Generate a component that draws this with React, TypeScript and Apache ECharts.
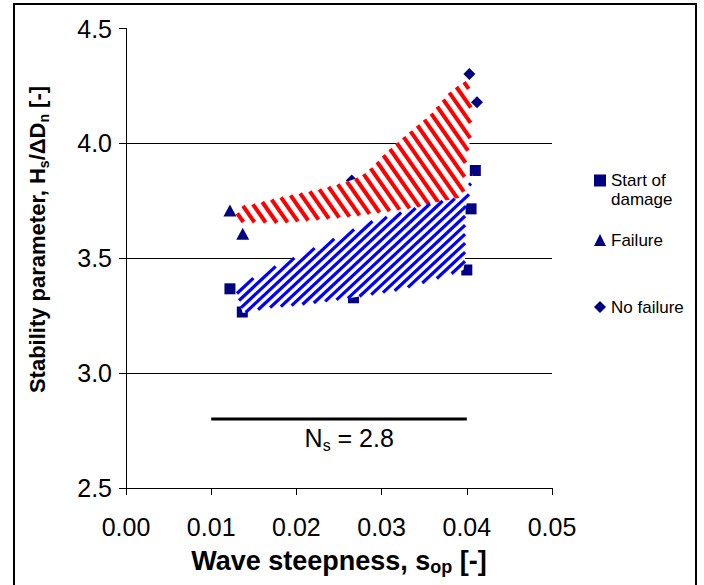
import React, { useEffect, useRef } from "react";
import * as echarts from "echarts";

// ---- data ----
const startX = [0.0122, 0.01365, 0.0267, 0.04, 0.0405, 0.041];
const startY = [3.367, 3.266, 3.328, 3.449, 3.715, 3.882];
const failX = [0.0122, 0.0137];
const failY = [3.708, 3.607];
const noFailX = [0.0265, 0.0403, 0.0412];
const noFailY = [3.838, 4.302, 4.179];

const nsX = [0.01, 0.04];
const nsY = [2.8, 2.8];
const nsLabelX = [0.0262];
const nsLabelY = [2.8];

// outline of the red hatched zone (upper edge, right edge, lower edge)
const redX = [0.0128, 0.0146, 0.0184, 0.0224, 0.0255, 0.0275, 0.029, 0.0305, 0.033, 0.0357, 0.037, 0.0382, 0.0396, 0.04,
  0.0405, 0.0404, 0.0398, 0.0396,
  0.038, 0.0318, 0.0263, 0.0184, 0.0134];
const redY = [3.724, 3.732, 3.767, 3.797, 3.828, 3.854, 3.9, 3.96, 4.04, 4.124, 4.18, 4.232, 4.264, 4.276,
  4.19, 4.015, 3.906, 3.754,
  3.741, 3.71, 3.681, 3.654, 3.658];

// outline of the blue hatched zone
const blueX = [0.013, 0.0146, 0.0166, 0.0193, 0.0224, 0.0259, 0.0283, 0.0321, 0.036, 0.0396, 0.0404, 0.0407,
  0.0403, 0.0398, 0.0398, 0.0396,
  0.036, 0.0321, 0.0263, 0.0204, 0.0166, 0.0137];
const blueY = [3.349, 3.406, 3.449, 3.493, 3.549, 3.61, 3.654, 3.697, 3.741, 3.767, 3.828, 3.871,
  3.784, 3.71, 3.49, 3.449,
  3.406, 3.362, 3.327, 3.297, 3.284, 3.262];

const FONT = "'Liberation Sans', Arial, sans-serif";
const NAVY = "#000080";

function hatch(pts: number[][], angleDeg: number, spacing: number) {
  const a = (angleDeg * Math.PI) / 180;
  const d = [Math.cos(a), Math.sin(a)];
  const n = [-d[1], d[0]];
  const proj = pts.map((p) => p[0] * n[0] + p[1] * n[1]);
  const mn = Math.min(...proj);
  const mx = Math.max(...proj);
  const segs: number[][] = [];
  for (let c = Math.ceil(mn / spacing) * spacing; c <= mx; c += spacing) {
    const ts: number[] = [];
    for (let i = 0; i < pts.length; i++) {
      const j = (i + 1) % pts.length;
      const dp = proj[i] - c;
      const dq = proj[j] - c;
      if (dp < 0 !== dq < 0) {
        const t = dp / (dp - dq);
        const x = pts[i][0] + t * (pts[j][0] - pts[i][0]);
        const y = pts[i][1] + t * (pts[j][1] - pts[i][1]);
        ts.push(x * d[0] + y * d[1]);
      }
    }
    ts.sort((u, v) => u - v);
    for (let k = 0; k + 1 < ts.length; k += 2) {
      segs.push([
        c * n[0] + ts[k] * d[0],
        c * n[1] + ts[k] * d[1],
        c * n[0] + ts[k + 1] * d[0],
        c * n[1] + ts[k + 1] * d[1],
      ]);
    }
  }
  return segs;
}

function zoneRenderer(xs: number[], ys: number[], color: string, angle: number, spacing: number, width: number) {
  return (params: any, api: any) => {
    const pts = xs.map((x, i) => api.coord([x, ys[i]]));
    const segs = hatch(pts, angle, spacing);
    return {
      type: "group",
      children: [
        { type: "polygon", shape: { points: pts }, style: { fill: "#fff", stroke: null } },
        ...segs.map((s) => ({
          type: "line",
          shape: { x1: s[0], y1: s[1], x2: s[2], y2: s[3] },
          style: { stroke: color, lineWidth: width },
        })),
      ],
    };
  };
}

const pairs = (xs: number[], ys: number[]) => xs.map((x, i) => [x, ys[i]]);

export default function App() {
  const ref = useRef<HTMLDivElement>(null);
  useEffect(() => {
    if (!ref.current) return;
    const chart = echarts.init(ref.current, null, { renderer: "svg" });
    const legendText = { fontFamily: FONT, fontSize: 17, color: "#000", lineHeight: 19 };
    const option: any = {
      animation: false,
      backgroundColor: "#fff",
      textStyle: { fontFamily: FONT },
      grid: { left: 126, top: 28.5, width: 426, height: 459.5, outerBoundsMode: "none" },
      xAxis: {
        type: "value",
        min: 0,
        max: 0.05,
        interval: 0.01,
        axisLine: { show: true, onZero: false, lineStyle: { color: "#000", width: 1 } },
        axisTick: { show: true, length: 7, lineStyle: { color: "#000" } },
        splitLine: { show: false },
        axisLabel: { fontFamily: FONT, fontSize: 25, color: "#000", margin: 26, formatter: (v: number) => v.toFixed(2) },
        name: "{b|Wave steepness, s}{sb|op}{b| [-]}",
        nameLocation: "middle",
        nameGap: 58,
        nameTextStyle: {
          rich: {
            b: { fontFamily: FONT, fontSize: 27, fontWeight: "bold", color: "#000", lineHeight: 30 },
            sb: { fontFamily: FONT, fontSize: 18, fontWeight: "bold", color: "#000", lineHeight: 11, verticalAlign: "bottom" },
          },
        },
      },
      yAxis: {
        type: "value",
        min: 2.5,
        max: 4.5,
        interval: 0.5,
        axisLine: { show: true, onZero: false, lineStyle: { color: "#000", width: 1 } },
        axisTick: { show: true, length: 7, lineStyle: { color: "#000" } },
        splitLine: { show: true, showMinLine: false, showMaxLine: false, lineStyle: { color: "#000", width: 1 } },
        axisLabel: { fontFamily: FONT, fontSize: 25, color: "#000", margin: 14, formatter: (v: number) => v.toFixed(1) },
      },
      legend: [
        {
          left: 594, top: 152, padding: 0, orient: "vertical", itemWidth: 12, itemHeight: 12,
          data: [{ name: "Start of damage", icon: "rect" }],
          formatter: () => " \nStart of\ndamage",
          textStyle: legendText,
        },
        {
          left: 594, top: 230.5, padding: 0, orient: "vertical", itemWidth: 12, itemHeight: 12,
          data: [{ name: "Failure", icon: "triangle" }],
          textStyle: legendText,
        },
        {
          left: 594, top: 297.5, padding: 0, orient: "vertical", itemWidth: 12, itemHeight: 12,
          data: [{ name: "No failure", icon: "diamond" }],
          textStyle: legendText,
        },
      ],
      graphic: [
        {
          type: "rect",
          silent: true,
          shape: { x: 14, y: 4, width: 682, height: 620 },
          style: { fill: "none", stroke: "#000", lineWidth: 2 },
          z: 100,
        },
        {
          type: "text",
          x: 37.5,
          y: 239.5,
          rotation: Math.PI / 2,
          style: {
            text: "{b|Stability parameter, H}{sb|s}{b|/ΔD}{sb|n}{b| [-]}",
            align: "center",
            verticalAlign: "middle",
            rich: {
              b: { fontFamily: FONT, fontSize: 22, fontWeight: "bold", fill: "#000", lineHeight: 26 },
              sb: { fontFamily: FONT, fontSize: 14, fontWeight: "bold", fill: "#000", lineHeight: 9, verticalAlign: "bottom" },
            },
          },
        },
      ],
      series: [
        {
          name: "Start of damage", type: "scatter", symbol: "rect", symbolSize: 11, z: 2,
          itemStyle: { color: NAVY, opacity: 1 }, data: pairs(startX, startY),
        },
        {
          name: "Failure", type: "scatter", symbol: "triangle", symbolSize: [13, 12], z: 2,
          itemStyle: { color: NAVY, opacity: 1 }, data: pairs(failX, failY),
        },
        {
          name: "No failure", type: "scatter", symbol: "diamond", symbolSize: 12, z: 2,
          itemStyle: { color: NAVY, opacity: 1 }, data: pairs(noFailX, noFailY),
        },
        {
          name: "red zone", type: "custom", z: 3, silent: true,
          renderItem: zoneRenderer(redX, redY, "#ff0000", 55, 9, 4),
          data: [[0.025, 3.8]],
        },
        {
          name: "blue zone", type: "custom", z: 4, silent: true,
          renderItem: zoneRenderer(blueX, blueY, "#0000ff", -43, 6.6, 3.2),
          data: [[0.025, 3.5]],
        },
        {
          name: "Ns line", type: "line", z: 2, silent: true, symbol: "none",
          lineStyle: { color: "#000", width: 3 }, data: pairs(nsX, nsY),
        },
        {
          name: "Ns label", type: "scatter", z: 2, silent: true, symbolSize: 0,
          itemStyle: { opacity: 1 },
          data: pairs(nsLabelX, nsLabelY),
          label: {
            show: true, position: "bottom", distance: 4,
            formatter: "{n|N}{s|s}{n| = 2.8}",
            rich: {
              n: { fontFamily: FONT, fontSize: 25, color: "#000", lineHeight: 30 },
              s: { fontFamily: FONT, fontSize: 16, color: "#000", lineHeight: 10, verticalAlign: "bottom" },
            },
          },
        },
      ],
    };
    chart.setOption(option);
    return () => chart.dispose();
  }, []);
  return (
    <div
      ref={ref}
      style={{ position: "absolute", left: 0, top: 0, width: 704, height: 585, background: "#fff" }}
    />
  );
}
